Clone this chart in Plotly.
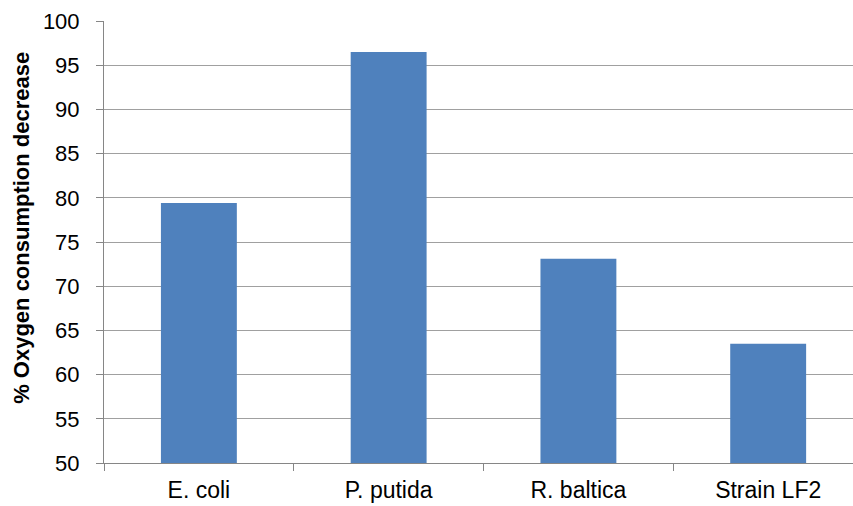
import plotly.graph_objects as go

# Oxygen consumption decrease per strain
strains = ["E. coli", "P. putida", "R. baltica", "Strain LF2"]
decrease_pct = [79.4, 96.5, 73.1, 63.5]
y_ticks = [50, 55, 60, 65, 70, 75, 80, 85, 90, 95, 100]
y_title = "% Oxygen consumption decrease"

fig = go.Figure(
    go.Bar(
        x=strains,
        y=decrease_pct,
        width=0.4,
        marker=dict(color="#4F81BD", line=dict(width=0)),
    )
)

fig.update_layout(
    width=853,
    height=506,
    margin=dict(l=104, r=0, t=21, b=43),
    paper_bgcolor="white",
    plot_bgcolor="white",
    showlegend=False,
    font=dict(family="Liberation Sans, Arial, sans-serif", size=22, color="black"),
)

fig.update_xaxes(
    range=[-0.5, 3.447],
    showline=True,
    linecolor="#868686",
    linewidth=1,
    ticks="outside",
    tickson="boundaries",
    ticklen=7,
    tickcolor="#868686",
    showgrid=False,
    ticklabelstandoff=6,
    tickfont=dict(size=23),
)

fig.update_yaxes(
    range=[50, 100],
    tickvals=y_ticks,
    showline=True,
    linecolor="#868686",
    linewidth=1,
    ticks="outside",
    ticklen=7,
    tickcolor="#868686",
    showgrid=True,
    gridcolor="#A0A0A0",
    gridwidth=1,
    ticklabelstandoff=12,
    tickfont=dict(size=22),
)

# Rotated y-axis title
fig.add_annotation(
    text=f"<b>{y_title}</b>",
    textangle=-90,
    xref="paper",
    yref="paper",
    x=0,
    y=0.532,
    xanchor="center",
    yanchor="middle",
    xshift=-82,
    showarrow=False,
    font=dict(size=22, color="black"),
)

fig.write_html("out.html")
